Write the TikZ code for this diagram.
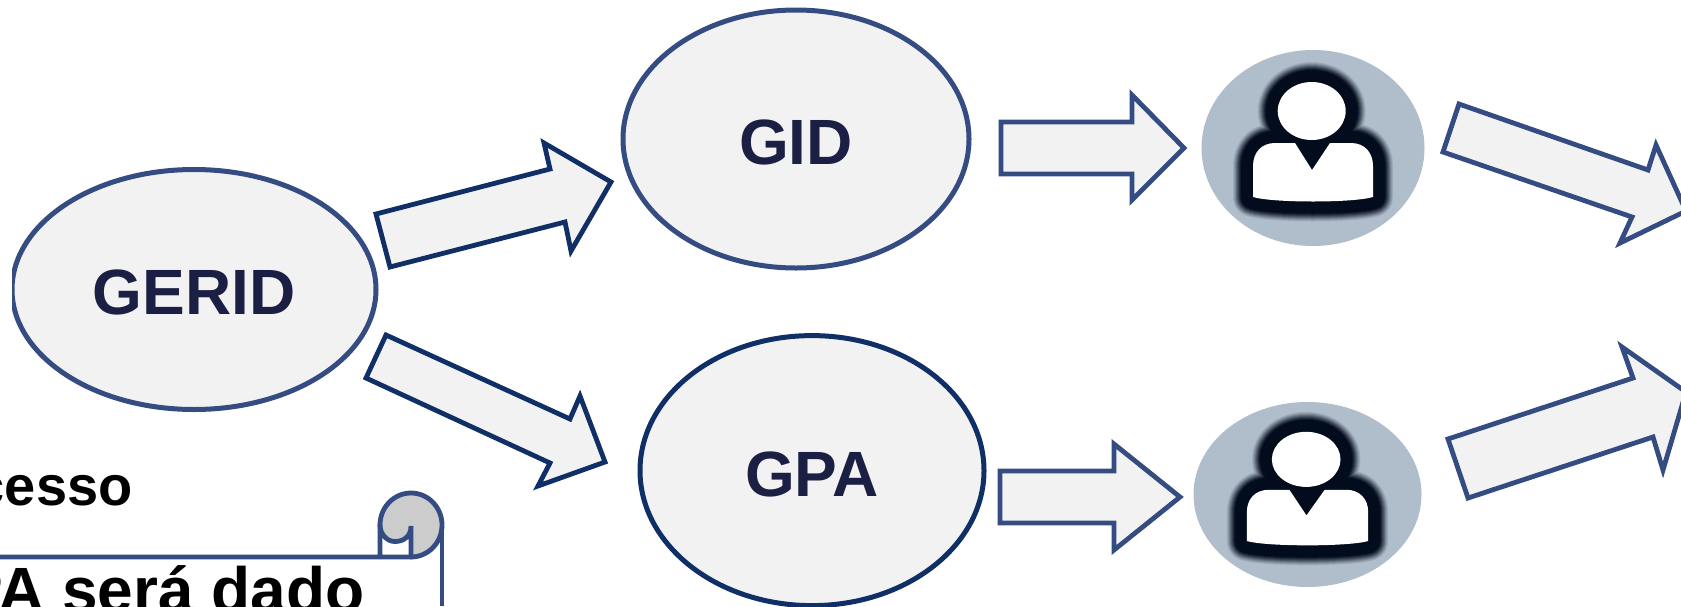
\documentclass[tikz,border=0pt]{standalone}
\usepackage{fontspec}
\setmainfont{Liberation Sans}
\usetikzlibrary{shapes.geometric}
\definecolor{lineblue}{HTML}{344C82}
\definecolor{linenavy}{HTML}{0F2F66}
\definecolor{softfill}{HTML}{F2F2F2}
\definecolor{inktext}{HTML}{1B1F43}
\definecolor{iconbg}{HTML}{B0BECC}
\definecolor{icondark}{HTML}{020C1C}
\definecolor{curlgray}{HTML}{CCCCCC}
\tikzset{
  bubble/.style={ellipse,draw=lineblue,fill=softfill,line width=2.5pt,inner sep=0pt,text=inktext,text height=25.4pt,text depth=0pt,font=\bfseries\fontsize{32}{36}\selectfont},
  navybubble/.style={bubble,draw=linenavy},
  blockarrow/.style={draw=lineblue,fill=softfill,line width=2.4pt,miter limit=10},
  navyarrow/.style={blockarrow,draw=linenavy},
  iconback/.style={ellipse,fill=iconbg,inner sep=0pt},
  scrollline/.style={draw=lineblue,line width=2.4pt},
  blacktext/.style={text=black,font=\bfseries,inner sep=0pt}
}
\newcommand{\personbody}{(-18,-5) -- (-38,-5) .. controls (-52,-5) and (-60,5) .. (-60,18) -- (-60,49) .. controls (-40,55) and (40,55) .. (60,49) -- (60,18) .. controls (60,5) and (52,-5) .. (38,-5) -- (17,-5) -- (-1,22) -- cycle}
\newcommand{\personhead}{(-1.3,-37) ellipse [x radius=34,y radius=29]}
\newcommand{\personicon}[3]{%
  \begin{scope}[shift={(#1)},xscale=#2,yscale=#3,line join=round]
    \foreach \w/\m in {20/10,19/20,18/32,17/45,16/58,15/70,14/82,13/92,12/100}{
      \path[draw=icondark!\m!iconbg,fill=icondark!\m!iconbg,line width=\w pt] \personbody;
      \path[draw=icondark!\m!iconbg,fill=icondark!\m!iconbg,line width=\w pt] \personhead;
    }
    \fill[white] \personbody;
    \fill[white] \personhead;
  \end{scope}}
\begin{document}
\begin{tikzpicture}[x=0.5pt,y=-0.5pt]
\useasboundingbox (0,0) rectangle (1681,606);
\clip (0,0) rectangle (1681,606);
\fill[white] (0,0) rectangle (1681,606);

\node[bubble,minimum width=182pt,minimum height=120pt] (gerid) at (194,289.5) {GERID};
\fill[white] (0,200) rectangle (12,380);
\node[bubble,minimum width=173pt,minimum height=129pt] (gid) at (796,139) {GID};
\node[navybubble,minimum width=172pt,minimum height=135pt] (gpa) at (812,470.6) {GPA};

\node[iconback,minimum width=111.5pt,minimum height=98pt] (personone) at (1313,148) {};
\node[iconback,minimum width=114pt,minimum height=92.5pt] (persontwo) at (1307.5,494.5) {};
\personicon{personone.center}{1}{1}
\personicon{persontwo.center}{1.01}{0.95}

\draw[navyarrow] (376,214) -- (550,169) -- (544,143) -- (611,182) -- (571,251) -- (565,222) -- (390,267) -- cycle;
\draw[navyarrow] (386,335) -- (570,419) -- (580,396) -- (605,462) -- (538,486) -- (550,463) -- (366,378) -- cycle;
\draw[blockarrow] (1001,122) -- (1132,122) -- (1132,95) -- (1184,148) -- (1132,200) -- (1132,174) -- (1001,174) -- cycle;
\draw[blockarrow] (1000,471) -- (1114,471) -- (1114,444) -- (1180,497) -- (1114,550) -- (1114,523) -- (1000,523) -- cycle;
\draw[blockarrow] (1459,104) -- (1648,170) -- (1656,145) -- (1686,211) -- (1620,243) -- (1632,217) -- (1443,152) -- cycle;
\draw[blockarrow] (1448,439) -- (1633,378) -- (1622,347) -- (1686,392) -- (1663,470) -- (1653,437) -- (1468,498) -- cycle;

\node[blacktext,anchor=base east,font=\bfseries\fontsize{28}{32}\selectfont] (cesso) at (133,505) {cesso};
\node[blacktext,anchor=base east,font=\bfseries\fontsize{32}{36}\selectfont] (serada) at (365,612) {PA será dado};

\fill[curlgray] (411,526) -- (411,557) arc[start angle=90,end angle=-180,x radius=31,y radius=32] .. controls (380,533) and (386,541.5) .. (395,541.5) .. controls (404,541.5) and (411,536) .. (411,526) -- cycle;
\draw[scrollline] (0,557) -- (411,557) arc[start angle=90,end angle=-180,x radius=31,y radius=32] -- (380,557);
\draw[scrollline] (442,525) -- (442,606);
\draw[scrollline,line cap=round] (380,525) .. controls (380,533) and (386,541.5) .. (395,541.5) .. controls (404,541.5) and (411,536) .. (411,526) -- (411,557);
\end{tikzpicture}
\end{document}
